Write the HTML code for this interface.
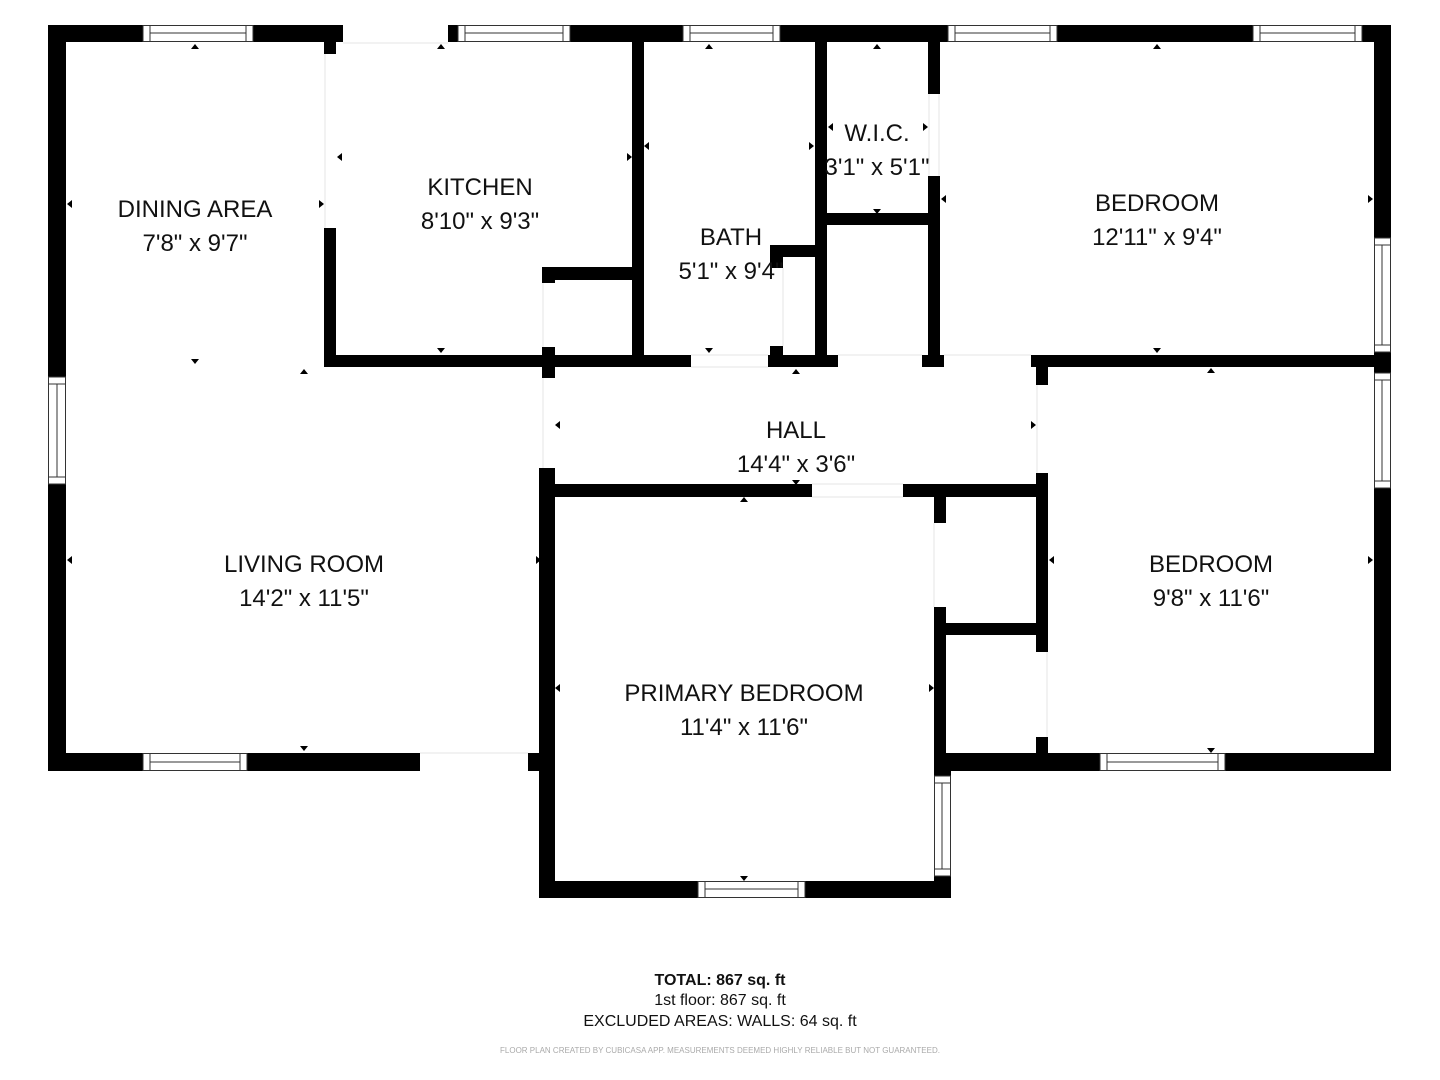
<!DOCTYPE html>
<html><head><meta charset="utf-8"><style>
html,body{margin:0;padding:0;background:#fff;width:1440px;height:1080px;overflow:hidden}
svg{display:block}
text{font-family:"Liberation Sans",sans-serif;fill:#111}
</style></head><body>
<svg width="1440" height="1080" viewBox="0 0 1440 1080" xmlns="http://www.w3.org/2000/svg">
<g fill="#000">
<rect x="48" y="25" width="295" height="17"/>
<rect x="448" y="25" width="943" height="17"/>
<rect x="48" y="25" width="18" height="746"/>
<rect x="1374" y="25" width="17" height="746"/>
<rect x="48" y="753" width="372" height="18"/>
<rect x="528" y="753" width="26" height="18"/>
<rect x="539" y="468" width="16" height="430"/>
<rect x="539" y="881" width="412" height="17"/>
<rect x="934" y="484" width="12" height="39"/>
<rect x="934" y="607" width="12" height="164"/>
<rect x="934" y="753" width="17" height="145"/>
<rect x="542" y="484" width="270" height="13"/>
<rect x="903" y="484" width="145" height="13"/>
<rect x="934" y="753" width="457" height="18"/>
<rect x="946" y="623" width="92" height="12"/>
<rect x="1036" y="473" width="12" height="179"/>
<rect x="1036" y="737" width="12" height="34"/>
<rect x="1036" y="355" width="12" height="30"/>
<rect x="324" y="42" width="12" height="12"/>
<rect x="324" y="228" width="12" height="139"/>
<rect x="324" y="355" width="367" height="12"/>
<rect x="542" y="347" width="13" height="31"/>
<rect x="632" y="42" width="12" height="325"/>
<rect x="542" y="267" width="90" height="13"/>
<rect x="542" y="267" width="13" height="16"/>
<rect x="768" y="355" width="70" height="12"/>
<rect x="815" y="42" width="12" height="325"/>
<rect x="770" y="245" width="57" height="12"/>
<rect x="770" y="245" width="13" height="23"/>
<rect x="770" y="346" width="13" height="21"/>
<rect x="928" y="42" width="12" height="52"/>
<rect x="928" y="176" width="12" height="191"/>
<rect x="827" y="213" width="113" height="12"/>
<rect x="922" y="355" width="22" height="12"/>
<rect x="1031" y="355" width="360" height="12"/>
</g>
<g stroke="#e6e6e6" stroke-width="1" fill="none">
<line x1="343" y1="43" x2="448" y2="43"/>
<line x1="325" y1="54" x2="325" y2="228"/>
<line x1="543" y1="283" x2="543" y2="347"/>
<line x1="543" y1="378" x2="543" y2="468"/>
<line x1="691" y1="355" x2="768" y2="355"/>
<line x1="691" y1="367" x2="768" y2="367"/>
<line x1="838" y1="355" x2="922" y2="355"/>
<line x1="944" y1="355" x2="1031" y2="355"/>
<line x1="783" y1="268" x2="783" y2="346"/>
<line x1="929" y1="94" x2="929" y2="176"/>
<line x1="939" y1="94" x2="939" y2="176"/>
<line x1="1037" y1="385" x2="1037" y2="473"/>
<line x1="1047" y1="652" x2="1047" y2="737"/>
<line x1="812" y1="484" x2="903" y2="484"/>
<line x1="812" y1="497" x2="903" y2="497"/>
<line x1="934" y1="523" x2="934" y2="607"/>
<line x1="420" y1="753" x2="528" y2="753"/>
</g>
<g fill="#fff" stroke="#333" stroke-width="1">
<rect x="143" y="25.5" width="110" height="16"/><line x1="150" y1="33" x2="246" y2="33"/><line x1="150" y1="26" x2="150" y2="41"/><line x1="246" y1="26" x2="246" y2="41"/>
<rect x="458" y="25.5" width="112" height="16"/><line x1="465" y1="33" x2="563" y2="33"/><line x1="465" y1="26" x2="465" y2="41"/><line x1="563" y1="26" x2="563" y2="41"/>
<rect x="683" y="25.5" width="97" height="16"/><line x1="690" y1="33" x2="773" y2="33"/><line x1="690" y1="26" x2="690" y2="41"/><line x1="773" y1="26" x2="773" y2="41"/>
<rect x="948" y="25.5" width="109" height="16"/><line x1="955" y1="33" x2="1050" y2="33"/><line x1="955" y1="26" x2="955" y2="41"/><line x1="1050" y1="26" x2="1050" y2="41"/>
<rect x="1253" y="25.5" width="109" height="16"/><line x1="1260" y1="33" x2="1355" y2="33"/><line x1="1260" y1="26" x2="1260" y2="41"/><line x1="1355" y1="26" x2="1355" y2="41"/>
<rect x="48.5" y="377" width="17" height="107"/><line x1="57" y1="384" x2="57" y2="477"/><line x1="49" y1="384" x2="65" y2="384"/><line x1="49" y1="477" x2="65" y2="477"/>
<rect x="1374.5" y="238" width="16" height="114"/><line x1="1382" y1="245" x2="1382" y2="345"/><line x1="1375" y1="245" x2="1390" y2="245"/><line x1="1375" y1="345" x2="1390" y2="345"/>
<rect x="1374.5" y="373" width="16" height="115"/><line x1="1382" y1="380" x2="1382" y2="481"/><line x1="1375" y1="380" x2="1390" y2="380"/><line x1="1375" y1="481" x2="1390" y2="481"/>
<rect x="143" y="753.5" width="104" height="17"/><line x1="150" y1="762" x2="240" y2="762"/><line x1="150" y1="754" x2="150" y2="770"/><line x1="240" y1="754" x2="240" y2="770"/>
<rect x="1100" y="753.5" width="125" height="17"/><line x1="1107" y1="762" x2="1218" y2="762"/><line x1="1107" y1="754" x2="1107" y2="770"/><line x1="1218" y1="754" x2="1218" y2="770"/>
<rect x="698" y="881.5" width="107" height="16"/><line x1="705" y1="889" x2="798" y2="889"/><line x1="705" y1="882" x2="705" y2="897"/><line x1="798" y1="882" x2="798" y2="897"/>
<rect x="934.5" y="776" width="16" height="100"/><line x1="942" y1="783" x2="942" y2="869"/><line x1="935" y1="783" x2="950" y2="783"/><line x1="935" y1="869" x2="950" y2="869"/>
</g>
<g fill="#000">
<path d="M191 49l4-5 4 5z"/><path d="M437 49l4-5 4 5z"/><path d="M705 49l4-5 4 5z"/><path d="M873 49l4-5 4 5z"/><path d="M1153 49l4-5 4 5z"/>
<path d="M191 359l4 5 4-5z"/><path d="M437 348l4 5 4-5z"/><path d="M705 348l4 5 4-5z"/><path d="M873 209l4 5 4-5z"/><path d="M1153 348l4 5 4-5z"/>
<path d="M300 374l4-5 4 5z"/><path d="M792 374l4-5 4 5z"/><path d="M1207 373l4-5 4 5z"/>
<path d="M792 480l4 5 4-5z"/><path d="M740 502l4-5 4 5z"/><path d="M300 746l4 5 4-5z"/><path d="M740 876l4 5 4-5z"/><path d="M1207 748l4 5 4-5z"/>
<path d="M72 200l-5 4 5 4z"/><path d="M319 200l5 4-5 4z"/><path d="M342 153l-5 4 5 4z"/><path d="M627 153l5 4-5 4z"/><path d="M649 142l-5 4 5 4z"/><path d="M809 142l5 4-5 4z"/>
<path d="M833 123l-5 4 5 4z"/><path d="M923 123l5 4-5 4z"/><path d="M946 195l-5 4 5 4z"/><path d="M1368 195l5 4-5 4z"/>
<path d="M560 421l-5 4 5 4z"/><path d="M1031 421l5 4-5 4z"/>
<path d="M72 556l-5 4 5 4z"/><path d="M536 556l5 4-5 4z"/><path d="M560 684l-5 4 5 4z"/><path d="M929 684l5 4-5 4z"/>
<path d="M1054 556l-5 4 5 4z"/><path d="M1368 556l5 4-5 4z"/>
</g>
<g font-size="24" text-anchor="middle">
<text x="195" y="217">DINING AREA</text><text x="195" y="251">7'8" x 9'7"</text>
<text x="480" y="195">KITCHEN</text><text x="480" y="229">8'10" x 9'3"</text>
<text x="731" y="245">BATH</text><text x="731" y="279">5'1" x 9'4"</text>
<text x="877" y="141">W.I.C.</text><text x="877" y="175">3'1" x 5'1"</text>
<text x="1157" y="211">BEDROOM</text><text x="1157" y="245">12'11" x 9'4"</text>
<text x="796" y="438">HALL</text><text x="796" y="472">14'4" x 3'6"</text>
<text x="304" y="572">LIVING ROOM</text><text x="304" y="606">14'2" x 11'5"</text>
<text x="1211" y="572">BEDROOM</text><text x="1211" y="606">9'8" x 11'6"</text>
<text x="744" y="701">PRIMARY BEDROOM</text><text x="744" y="735">11'4" x 11'6"</text>
</g>
<g text-anchor="middle">
<text x="720" y="985" font-size="16" font-weight="bold">TOTAL: 867 sq. ft</text>
<text x="720" y="1005" font-size="16">1st floor: 867 sq. ft</text>
<text x="720" y="1026" font-size="16">EXCLUDED AREAS: WALLS: 64 sq. ft</text>
<text x="720" y="1053" font-size="8" style="fill:#aaa">FLOOR PLAN CREATED BY CUBICASA APP. MEASUREMENTS DEEMED HIGHLY RELIABLE BUT NOT GUARANTEED.</text>
</g>
</svg>
</body></html>
